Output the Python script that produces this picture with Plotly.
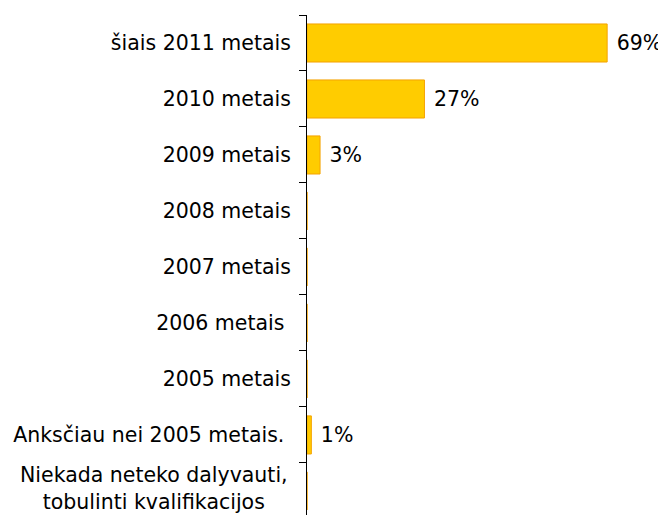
import plotly.graph_objects as go

categories = [
    "šiais 2011 metais",
    "2010 metais",
    "2009 metais",
    "2008 metais",
    "2007 metais",
    "2006 metais ",
    "2005 metais",
    "Anksčiau nei 2005 metais. ",
    "Niekada neteko dalyvauti,<br>tobulinti kvalifikacijos",
]
values = [69, 27, 3, 0, 0, 0, 0, 1, 0]
value_labels = ["69%", "27%", "3%", "", "", "", "", "1%", ""]

FONT = "DejaVu Sans"
FS = 20.5

tick_text = list(categories[:-1]) + [""]
bar_text = [("\u00a0" + t) if t else "" for t in value_labels]

fig = go.Figure()
fig.add_trace(go.Bar(
    y=categories,
    x=values,
    orientation="h",
    marker=dict(color="#FFCC00", line=dict(color="#F5A300", width=1)),
    text=bar_text,
    textposition="outside",
    textfont=dict(family=FONT, size=FS, color="#000000"),
    cliponaxis=False,
    hoverinfo="skip",
))

fig.add_annotation(
    xref="paper", x=0, xanchor="right", xshift=-17,
    yref="y", y=categories[-1], yanchor="middle", yshift=2,
    text=categories[-1], align="center", showarrow=False,
    font=dict(family=FONT, size=FS, color="#000000"),
)

fig.update_layout(
    width=658, height=507,
    margin=dict(l=299, r=11, t=7, b=0),
    paper_bgcolor="white", plot_bgcolor="white",
    showlegend=False,
    bargap=0.32,
    font=dict(family=FONT, size=FS, color="#000000"),
    xaxis=dict(range=[0, 80], visible=False, fixedrange=True),
    yaxis=dict(
        categoryorder="array", categoryarray=categories,
        tickmode="array", tickvals=categories, ticktext=tick_text,
        range=[8.43, -0.5],
        showline=True, linecolor="#000000", linewidth=1,
        ticks="outside", ticklen=7, tickcolor="#000000", tickwidth=1,
        tickson="boundaries",
        showgrid=False, zeroline=False,
        ticklabelstandoff=11,
        tickfont=dict(family=FONT, size=FS, color="#000000"),
    ),
)

fig.write_html("out.html")
